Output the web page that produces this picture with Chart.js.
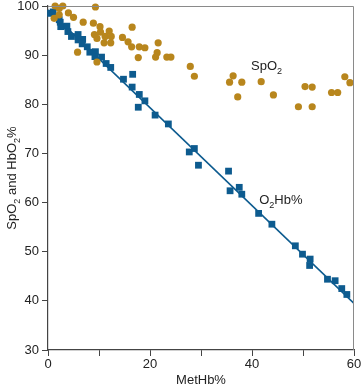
<!DOCTYPE html>
<html>
<head>
<meta charset="utf-8">
<script src="https://cdn.jsdelivr.net/npm/chart.js@4"></script>
<style>
  html, body { margin: 0; padding: 0; background: #fff; }
  #wrap { width: 362px; height: 388px; }
</style>
</head>
<body>
<div id="wrap"><canvas id="myChart" width="362" height="388"></canvas></div>
<script>
// SpO2 readings (gold circles)
const spo2X = [1.4, 2.9, 2.2, 1.2, 2.2, 4.0, 5.0, 9.3, 6.9, 8.9, 9.1, 10.2, 10.3, 9.6, 11.2, 12.0, 12.4, 11.0, 12.3, 14.6, 15.7, 16.4, 16.5, 17.9, 19.0, 21.6, 21.4, 21.1, 17.7, 23.3, 24.1, 5.8, 9.6, 27.9, 28.7, 36.3, 35.6, 38.0, 37.2, 41.8, 44.2, 50.4, 51.8, 49.1, 51.8, 55.6, 56.8, 58.2, 59.2];
const spo2Y = [100, 100, 99.5, 97.5, 98.2, 98.6, 97.7, 99.8, 96.7, 96.5, 94.2, 95.8, 94.7, 93.4, 93.8, 94.9, 93.8, 92.5, 92.5, 93.6, 92.7, 91.7, 95.7, 91.7, 91.5, 92.5, 90.5, 89.6, 89.5, 89.6, 89.6, 90.6, 88.6, 87.7, 85.7, 85.8, 84.5, 84.5, 81.5, 84.6, 81.9, 83.6, 83.5, 79.5, 79.5, 82.4, 82.4, 85.6, 84.4];

// O2Hb readings (blue squares)
const o2hbX = [0.5, 1.0, 2.2, 2.4, 2.5, 3.7, 3.9, 4.6, 5.9, 6.8, 5.9, 6.7, 7.7, 8.2, 9.3, 9.2, 10.5, 11.4, 12.3, 14.8, 16.6, 16.5, 17.9, 17.7, 19.0, 21.0, 23.6, 27.7, 28.7, 29.5, 35.4, 35.7, 37.5, 38.0, 41.3, 43.9, 48.5, 49.9, 51.4, 51.3, 54.8, 56.3, 57.6, 58.6];
const o2hbY = [98.5, 98.8, 97.2, 96.7, 95.8, 95.9, 94.8, 93.8, 94.2, 93.2, 93.1, 92.3, 91.7, 90.6, 90.7, 89.7, 89.6, 88.3, 87.5, 85.1, 86.1, 83.5, 82.0, 79.4, 80.7, 77.8, 76.0, 70.3, 71.0, 67.6, 66.4, 62.4, 63.1, 61.7, 57.8, 55.6, 51.2, 49.5, 48.5, 47.2, 44.4, 44.1, 42.5, 41.3];

// fitted line for O2Hb
const fitX = [0, 60];
const fitY = [99.2, 39.5];

const xTicks = [0, 20, 40, 60];

const BLUE = '#0d5b8f';
const GOLD = '#b8861d';
const FONT = "'Liberation Sans', Arial, sans-serif";

const toPoints = (xs, ys) => xs.map((x, i) => ({ x: x, y: ys[i] }));

// draws text pieces, the ones marked sub are drawn small and lowered
function drawSub(ctx, parts, x, y, size) {
  let cx = x;
  parts.forEach(p => {
    if (p.sub) {
      ctx.font = (size * 0.7) + 'px ' + FONT;
      ctx.fillText(p.t, cx, y + size * 0.3);
    } else {
      ctx.font = size + 'px ' + FONT;
      ctx.fillText(p.t, cx, y);
    }
    cx += ctx.measureText(p.t).width;
  });
}

const labelsPlugin = {
  id: 'labels',
  afterDraw(chart) {
    const ctx = chart.ctx;
    const xs = chart.scales.x, ys = chart.scales.y;
    const a = chart.chartArea;
    ctx.save();
    // top and right frame
    ctx.strokeStyle = '#8a8a8a';
    ctx.lineWidth = 1;
    ctx.beginPath();
    ctx.moveTo(a.left, a.top + 0.5);
    ctx.lineTo(a.right - 0.5, a.top + 0.5);
    ctx.lineTo(a.right - 0.5, a.bottom);
    ctx.stroke();

    ctx.fillStyle = '#222';
    ctx.textBaseline = 'alphabetic';
    drawSub(ctx, [{ t: 'SpO' }, { t: '2', sub: true }], xs.getPixelForValue(39.8), ys.getPixelForValue(87), 13);
    drawSub(ctx, [{ t: 'O' }, { t: '2', sub: true }, { t: 'Hb%' }], xs.getPixelForValue(41.4), ys.getPixelForValue(59.7), 13);

    // y axis title
    ctx.translate(16, (a.top + a.bottom) / 2);
    ctx.rotate(-Math.PI / 2);
    const parts = [{ t: 'SpO' }, { t: '2', sub: true }, { t: ' and HbO' }, { t: '2', sub: true }, { t: '%' }];
    let w = 0;
    parts.forEach(p => {
      ctx.font = (p.sub ? 13 * 0.7 : 13) + 'px ' + FONT;
      w += ctx.measureText(p.t).width;
    });
    drawSub(ctx, parts, -w / 2, 0, 13);
    ctx.restore();
  }
};

const ctx = document.getElementById('myChart').getContext('2d');
const myChart = new Chart(ctx, {
  type: 'scatter',
  data: {
    datasets: [
      {
        label: 'SpO2',
        data: toPoints(spo2X, spo2Y),
        pointStyle: 'circle',
        pointRadius: 3.6,
        backgroundColor: GOLD,
        borderColor: GOLD,
        borderWidth: 0,
        clip: false
      },
      {
        label: 'O2Hb%',
        data: toPoints(o2hbX, o2hbY),
        pointStyle: 'rect',
        pointRadius: 4.8,
        backgroundColor: BLUE,
        borderColor: BLUE,
        borderWidth: 0,
        clip: false
      },
      {
        type: 'line',
        label: 'fit',
        data: toPoints(fitX, fitY),
        borderColor: BLUE,
        borderWidth: 1.6,
        pointRadius: 0,
        fill: false
      }
    ]
  },
  options: {
    responsive: false,
    animation: false,
    layout: { padding: { top: 0, right: 0, left: 0, bottom: 0 } },
    plugins: {
      legend: { display: false },
      tooltip: { enabled: false }
    },
    scales: {
      x: {
        type: 'linear',
        min: 0,
        max: 60,
        afterFit: s => { s.height = 38; s.paddingRight = 8; s.paddingLeft = 0; },
        border: { display: true, color: '#444', width: 1.2 },
        grid: { display: true, drawOnChartArea: false, drawTicks: true, tickLength: 6, color: '#444' },
        ticks: {
          stepSize: 10,
          color: '#222',
          padding: 2,
          font: { family: FONT, size: 13, lineHeight: 1 },
          callback: v => xTicks.includes(v) ? String(v) : ''
        },
        title: {
          display: true,
          text: 'MetHb%',
          color: '#222',
          padding: { top: 2, bottom: 0 },
          font: { family: FONT, size: 13 }
        }
      },
      y: {
        type: 'linear',
        min: 30,
        max: 100,
        afterFit: s => { s.width = 48; s.paddingTop = 6; s.paddingBottom = 0; },
        border: { display: true, color: '#444', width: 1.2 },
        grid: { display: true, drawOnChartArea: false, drawTicks: true, tickLength: 6, color: '#444' },
        ticks: {
          stepSize: 10,
          color: '#222',
          padding: 3,
          font: { family: FONT, size: 13, lineHeight: 1 }
        }
      }
    }
  },
  plugins: [labelsPlugin]
});
</script>
</body>
</html>
